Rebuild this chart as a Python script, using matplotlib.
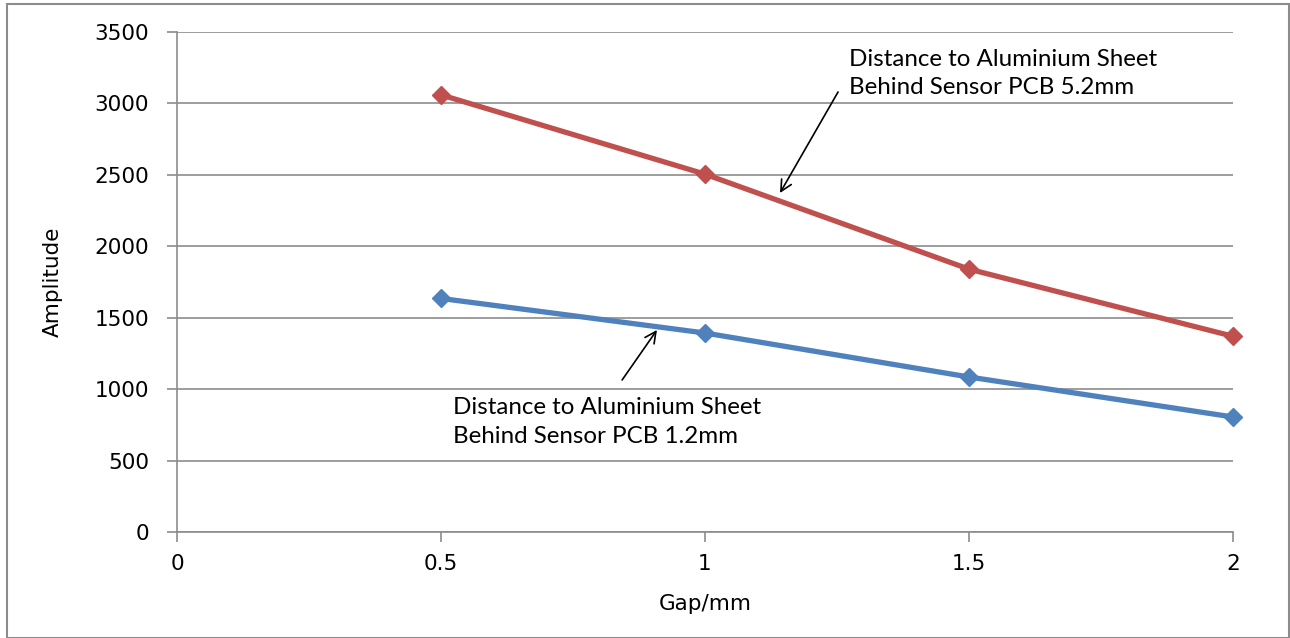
import matplotlib
matplotlib.use("Agg")
import matplotlib.pyplot as plt
from matplotlib.patches import Rectangle

gap = [0.5, 1.0, 1.5, 2.0]
amp_5_2mm = [3060, 2505, 1840, 1370]
amp_1_2mm = [1635, 1393, 1085, 805]
x_ticks = [0, 0.5, 1, 1.5, 2]
x_tick_labels = ["0", "0.5", "1", "1.5", "2"]
y_ticks = [0, 500, 1000, 1500, 2000, 2500, 3000, 3500]
label_5_2 = "Distance to Aluminium Sheet\nBehind Sensor PCB 5.2mm"
label_1_2 = "Distance to Aluminium Sheet\nBehind Sensor PCB 1.2mm"

W, H = 1290, 638
fig = plt.figure(figsize=(W / 100, H / 100), dpi=100)
ax = fig.add_axes([177 / W, 1 - 532 / H, (1233 - 177) / W, (532 - 32) / H])

grey = "#8c8c8c"
red = "#c0504d"
blue = "#4f81bd"

ax.plot(gap, amp_5_2mm, color=red, lw=3.8, marker="D", ms=9.5, zorder=3, clip_on=False)
ax.plot(gap, amp_1_2mm, color=blue, lw=3.8, marker="D", ms=9.5, zorder=3, clip_on=False)

ax.set_xlim(0, 2)
ax.set_ylim(0, 3500)
ax.set_xticks(x_ticks)
ax.set_xticklabels(x_tick_labels)
ax.set_yticks(y_ticks)
ax.yaxis.grid(True, color=grey, lw=1.2)
ax.set_axisbelow(True)
for s in ["top", "right"]:
    ax.spines[s].set_visible(False)
for s in ["left", "bottom"]:
    ax.spines[s].set_color(grey)
    ax.spines[s].set_linewidth(1.2)
ax.tick_params(axis="both", colors=grey, width=1.2, length=7, direction="out",
               labelcolor="black", labelsize=15.5)
ax.tick_params(axis="x", pad=9)
ax.tick_params(axis="y", pad=13)
for lab in ax.get_xticklabels() + ax.get_yticklabels():
    lab.set_family("DejaVu Sans")

ax.set_xlabel("Gap/mm", fontsize=15.5, labelpad=14)
ax.set_ylabel("Amplitude", fontsize=15.5, labelpad=23)

arrow = dict(arrowstyle="->", color="black", lw=1.2,
             shrinkA=0, shrinkB=0, mutation_scale=20)
ax.annotate("", xy=(1.142, 2373), xytext=(1.252, 3080), arrowprops=arrow)
ax.annotate("", xy=(0.909, 1414), xytext=(0.843, 1064), arrowprops=arrow)

ax.text(1.273, 3210, label_5_2, fontsize=17.4, family="Lato",
        ha="left", va="center", linespacing=1.45)
ax.text(0.523, 770, label_1_2, fontsize=17.4, family="Lato",
        ha="left", va="center", linespacing=1.45)

fig.patches.append(Rectangle((7 / W, 0), (1289 - 7) / W, 1 - 4 / H,
                             transform=fig.transFigure, fill=False,
                             edgecolor=grey, lw=1.5))

fig.savefig("out.png", dpi=100)
